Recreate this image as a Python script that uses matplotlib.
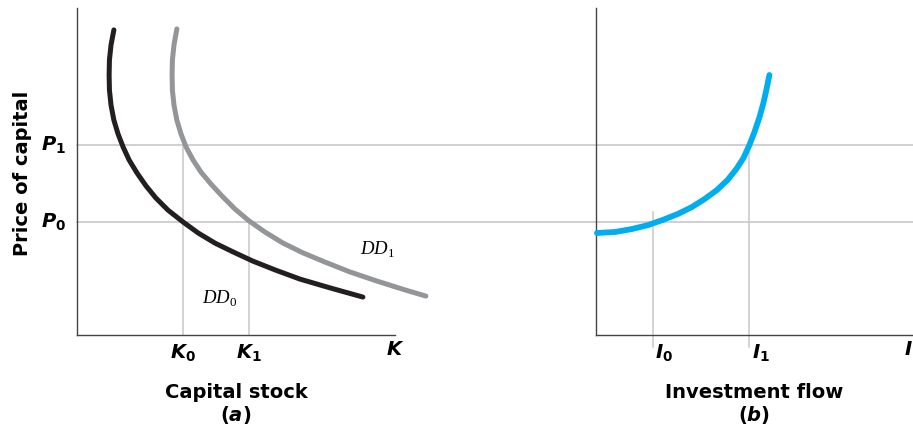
import matplotlib
matplotlib.use("Agg")
import matplotlib.pyplot as plt

plt.rcParams['mathtext.fontset'] = 'custom'
plt.rcParams['mathtext.it'] = 'DejaVu Sans:bold:italic'
plt.rcParams['mathtext.rm'] = 'DejaVu Sans:bold'
plt.rcParams['mathtext.bf'] = 'DejaVu Sans:bold'
plt.rcParams['mathtext.sf'] = 'Liberation Serif:italic'
plt.rcParams['mathtext.tt'] = 'Liberation Serif'

# ---- data ----
P0 = 3.46
P1 = 5.81
K0 = 3.33
K1 = 5.40
I0 = 1.79
I1 = 4.84

dd0_x = [1.16, 1.07, 1.02, 1.01, 1.02, 1.07, 1.16, 1.29, 1.45, 1.64, 1.89, 2.17, 2.48,
         2.86, 3.33, 3.81, 4.34, 4.91, 5.53, 6.23, 7.01, 7.96, 8.99]
dd0_y = [9.33, 8.87, 8.41, 7.95, 7.49, 7.03, 6.57, 6.15, 5.75, 5.35, 4.95, 4.56, 4.19,
         3.82, 3.46, 3.12, 2.81, 2.54, 2.26, 1.99, 1.71, 1.44, 1.16]

dd1_x = [3.14, 3.05, 3.00, 2.99, 3.00, 3.05, 3.14, 3.27, 3.43, 3.65, 3.90, 4.21, 4.56,
         4.97, 5.41, 5.91, 6.48, 7.11, 7.80, 8.58, 9.43, 10.31, 10.97]
dd1_y = [9.36, 8.87, 8.41, 7.95, 7.49, 7.03, 6.57, 6.15, 5.75, 5.35, 4.98, 4.62, 4.25,
         3.85, 3.49, 3.15, 2.81, 2.51, 2.23, 1.93, 1.65, 1.38, 1.19]

inv_x = [0.03, 0.60, 1.13, 1.64, 2.11, 2.58, 3.02, 3.43, 3.81, 4.15, 4.43, 4.65, 4.84,
         5.00, 5.16, 5.28, 5.38, 5.47]
inv_y = [3.12, 3.15, 3.24, 3.36, 3.52, 3.70, 3.91, 4.16, 4.43, 4.74, 5.08, 5.41, 5.81,
         6.21, 6.67, 7.09, 7.52, 7.95]

W, H = 913, 432
fig = plt.figure(figsize=(W / 100, H / 100), dpi=100)
axA = fig.add_axes([77 / W, 97 / H, 318 / W, 327 / H])
axB = fig.add_axes([596 / W, 97 / H, 317 / W, 327 / H])

BLACK = '#231f20'
GRAY = '#939598'
BLUE = '#00aeef'
GUIDE = '#c8c8c8'
SPINE = '#444444'

for ax in (axA, axB):
    ax.set_xlim(0, 10)
    ax.set_ylim(0, 10)
    ax.set_xticks([])
    ax.set_yticks([])
    for s in ('top', 'right'):
        ax.spines[s].set_visible(False)
    for s in ('left', 'bottom'):
        ax.spines[s].set_color(SPINE)
        ax.spines[s].set_linewidth(1.0)
    ax.patch.set_alpha(0)

# horizontal price lines spanning both panels
span = (W - 77) / 318
for p in (P0, P1):
    axA.axhline(p, xmin=0, xmax=span, color=GUIDE, lw=1.2, clip_on=False, zorder=1)

# vertical guides
axA.plot([K0, K0], [0, P1], color=GUIDE, lw=1.1, zorder=1)
axA.plot([K1, K1], [0, P0], color=GUIDE, lw=1.1, zorder=1)
axB.plot([I0, I0], [-0.37, 3.76], color=GUIDE, lw=1.1, zorder=1, clip_on=False)
axB.plot([I1, I1], [-0.37, P1], color=GUIDE, lw=1.1, zorder=1, clip_on=False)

# curves
axA.plot(dd0_x, dd0_y, color=BLACK, lw=3.6, solid_capstyle='round',
         solid_joinstyle='round', zorder=3, clip_on=False)
axA.plot(dd1_x, dd1_y, color=GRAY, lw=3.6, solid_capstyle='round',
         solid_joinstyle='round', zorder=3, clip_on=False)
axB.plot(inv_x, inv_y, color=BLUE, lw=4.2, solid_capstyle='round',
         solid_joinstyle='round', zorder=3, clip_on=False)

# curve labels
axA.text(4.5, 1.1, r'$\mathsf{DD}_{\mathtt{0}}$', fontsize=13.5, ha='center', va='center')
axA.text(9.45, 2.6, r'$\mathsf{DD}_{\mathtt{1}}$', fontsize=13.5, ha='center', va='center')

# axis tick-like labels
lab_y = -0.55
axA.text(K0, lab_y, r'$K_0$', fontsize=14, ha='center', va='center')
axA.text(K1, lab_y, r'$K_1$', fontsize=14, ha='center', va='center')
axA.text(10.0, lab_y + 0.1, r'$K$', fontsize=14, ha='center', va='center')
axB.text(I0 + 0.35, lab_y, r'$I_0$', fontsize=14, ha='center', va='center', clip_on=False)
axB.text(I1 + 0.35, lab_y, r'$I_1$', fontsize=14, ha='center', va='center', clip_on=False)
axB.text(10.0, lab_y + 0.1, r'$I$', fontsize=14, ha='right', va='center', clip_on=False)

axA.text(-0.75, P1, r'$P_1$', fontsize=14, ha='center', va='center')
axA.text(-0.75, P0, r'$P_0$', fontsize=14, ha='center', va='center')

# axis titles
axA.text(5.0, -1.75, 'Capital stock', fontsize=14, fontweight='bold', ha='center', va='center')
axA.text(5.0, -2.45, r'$(a)$', fontsize=14, ha='center', va='center')
axB.text(5.0, -1.75, 'Investment flow', fontsize=14, fontweight='bold', ha='center', va='center')
axB.text(5.0, -2.45, r'$(b)$', fontsize=14, ha='center', va='center')

fig.text(22 / W, 1 - 173 / H, 'Price of capital', fontsize=14, fontweight='bold',
         rotation=90, ha='center', va='center')

fig.savefig('out.png', dpi=100)
